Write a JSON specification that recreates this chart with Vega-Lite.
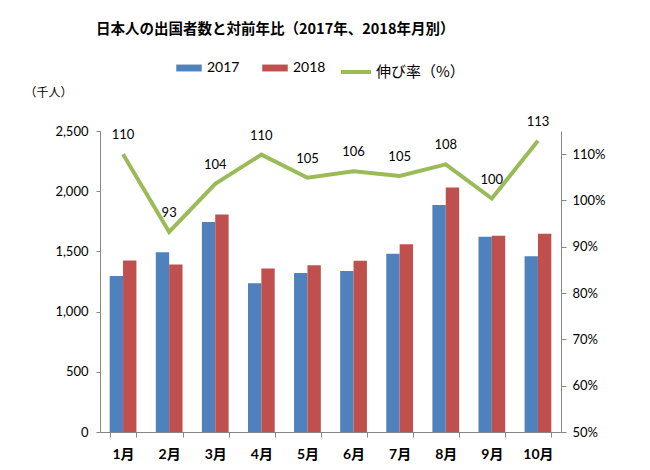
{
  "$schema": "https://vega.github.io/schema/vega-lite/v6.json",
  "width": 461,
  "height": 301,
  "autosize": {"type": "none"},
  "padding": {"left": 100, "top": 131, "right": 89, "bottom": 38},
  "background": "white",
  "config": {
    "view": {"stroke": null},
    "font": "Lato, Noto Sans CJK JP",
    "axis": {"grid": false, "domainColor": "#868686", "tickColor": "#868686", "labelColor": "#000000", "labelFont": "Lato, Noto Sans CJK JP"}
  },
  "title": {
    "text": "日本人の出国者数と対前年比（2017年、2018年月別）",
    "font": "Noto Sans CJK JP",
    "fontSize": 14.5,
    "fontWeight": "bold",
    "color": "#000000",
    "anchor": "start",
    "frame": "group",
    "dx": -4,
    "offset": 18
  },
  "datasets": {
    "bars": [
      {"month": "1月", "year": "2017", "value": 1296},
      {"month": "1月", "year": "2018", "value": 1424},
      {"month": "2月", "year": "2017", "value": 1492},
      {"month": "2月", "year": "2018", "value": 1392},
      {"month": "3月", "year": "2017", "value": 1744},
      {"month": "3月", "year": "2018", "value": 1806},
      {"month": "4月", "year": "2017", "value": 1235},
      {"month": "4月", "year": "2018", "value": 1359},
      {"month": "5月", "year": "2017", "value": 1320},
      {"month": "5月", "year": "2018", "value": 1384},
      {"month": "6月", "year": "2017", "value": 1337},
      {"month": "6月", "year": "2018", "value": 1422},
      {"month": "7月", "year": "2017", "value": 1481},
      {"month": "7月", "year": "2018", "value": 1559},
      {"month": "8月", "year": "2017", "value": 1885},
      {"month": "8月", "year": "2018", "value": 2031},
      {"month": "9月", "year": "2017", "value": 1622},
      {"month": "9月", "year": "2018", "value": 1630},
      {"month": "10月", "year": "2017", "value": 1459},
      {"month": "10月", "year": "2018", "value": 1647}
    ],
    "growth": [
      {"month": "1月", "pct": 110.0},
      {"month": "2月", "pct": 93.2},
      {"month": "3月", "pct": 103.6},
      {"month": "4月", "pct": 109.9},
      {"month": "5月", "pct": 104.9},
      {"month": "6月", "pct": 106.3},
      {"month": "7月", "pct": 105.3},
      {"month": "8月", "pct": 107.8},
      {"month": "9月", "pct": 100.4},
      {"month": "10月", "pct": 112.9}
    ]
  },
  "encoding": {
    "x": {
      "field": "month",
      "type": "nominal",
      "sort": ["1月", "2月", "3月", "4月", "5月", "6月", "7月", "8月", "9月", "10月"],
      "scale": {"paddingInner": 0.42, "paddingOuter": 0.21},
      "axis": {
        "title": null,
        "labelAngle": 0,
        "labelFontSize": 14,
        "labelFontWeight": "bold",
        "labelPadding": 10,
        "tickBand": "extent",
        "tickSize": 5
      }
    }
  },
  "layer": [
    {
      "data": {"name": "bars"},
      "mark": {"type": "bar"},
      "encoding": {
        "xOffset": {"field": "year", "type": "nominal"},
        "y": {
          "field": "value",
          "type": "quantitative",
          "scale": {"domain": [0, 2500], "nice": false},
          "axis": {
            "orient": "left",
            "values": [0, 500, 1000, 1500, 2000, 2500],
            "format": ",.0f",
            "labelFontSize": 13,
            "tickSize": 4,
            "labelPadding": 8,
            "title": "（千人）",
            "titleAngle": 0,
            "titleAlign": "left",
            "titleBaseline": "alphabetic",
            "titleX": -76,
            "titleY": -35,
            "titleFont": "Noto Sans CJK JP",
            "titleFontSize": 12,
            "titleFontWeight": "normal",
            "titleColor": "#000000"
          }
        },
        "fill": {
          "field": "year",
          "type": "nominal",
          "scale": {"domain": ["2017", "2018"], "range": ["#4F81BD", "#C0504D"]},
          "legend": {
            "title": null,
            "orient": "none",
            "legendX": 76,
            "legendY": -76,
            "direction": "horizontal",
            "symbolType": "M-1,-0.27H1V0.27H-1Z",
            "symbolSize": 650,
            "symbolStrokeWidth": 0,
            "labelFontSize": 14,
            "labelFont": "Lato",
            "labelColor": "#000000",
            "columnPadding": 22,
            "labelOffset": 5
          }
        }
      }
    },
    {
      "data": {"name": "growth"},
      "encoding": {
        "y": {
          "field": "pct",
          "type": "quantitative",
          "scale": {"domain": [50, 115], "nice": false, "zero": false},
          "axis": {
            "orient": "right",
            "values": [50, 60, 70, 80, 90, 100, 110],
            "labelExpr": "datum.value + '%'",
            "labelFontSize": 13,
            "tickSize": 5,
            "labelPadding": 6,
            "title": null
          }
        }
      },
      "layer": [
        {
          "mark": {"type": "line", "strokeWidth": 4},
          "encoding": {
            "stroke": {
              "datum": "伸び率（%）",
              "type": "nominal",
              "scale": {"range": ["#9BBB59"]},
              "legend": {
                "title": null,
                "orient": "none",
                "legendX": 239,
                "legendY": -76,
                "symbolType": "stroke",
                "symbolSize": 900,
                "symbolStrokeWidth": 4,
                "labelFontSize": 15,
                "labelFont": "Noto Sans CJK JP",
                "labelColor": "#000000",
                "labelOffset": 3
              }
            }
          }
        },
        {
          "mark": {"type": "text", "dy": -19, "fontSize": 13, "font": "Lato", "color": "#000000"},
          "encoding": {
            "text": {"field": "pct", "type": "quantitative", "format": ".0f"}
          }
        }
      ]
    }
  ],
  "resolve": {"scale": {"y": "independent"}}
}
